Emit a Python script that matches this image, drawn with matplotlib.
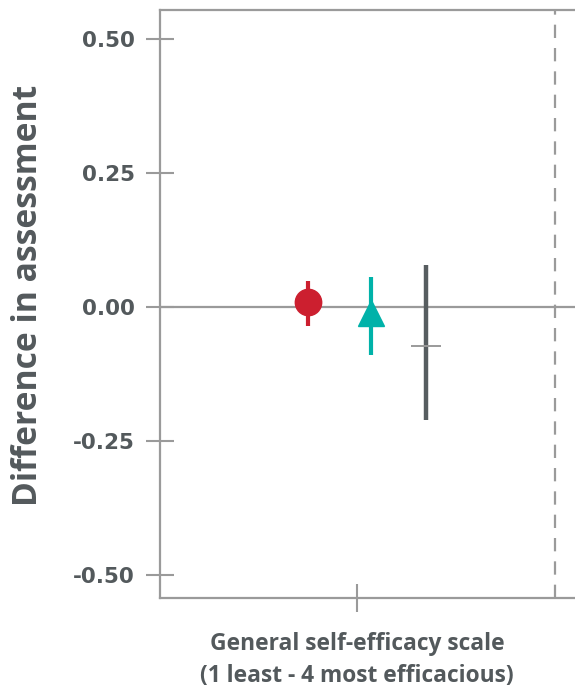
import matplotlib
matplotlib.use("Agg")
import matplotlib.pyplot as plt

# Data
groups = ["red", "teal", "dark"]
x_pos = [-0.49, 0.145, 0.69]
estimates = [0.010, -0.011, -0.072]
lower = [-0.035, -0.090, -0.211]
upper = [0.049, 0.056, 0.078]
y_ticks = [0.50, 0.25, 0.00, -0.25, -0.50]
y_tick_labels = ["0.50", "0.25", "0.00", "-0.25", "-0.50"]
ref_x = 1.98

plt.rcParams['font.family'] = ['Open Sans', 'DejaVu Sans']
txt = '#53595c'
grey = '#9a9a9a'

fig = plt.figure(figsize=(5.75, 6.92), dpi=100)
ax = fig.add_axes([0.278, 0.1358, 0.722, 0.8497])
ax.set_xlim(-1.97, 2.18)
ax.set_ylim(-0.543, 0.554)

ax.axhline(0, color=grey, lw=1.6, zorder=1)
ax.axvline(ref_x, color=grey, lw=1.6, ls=(0, (6, 4.5)), zorder=1)

# red circle
ax.vlines(x_pos[0], lower[0], upper[0], color='#cc1f2f', lw=3, zorder=3)
ax.plot(x_pos[0], estimates[0], 'o', ms=19, color='#cc1f2f', zorder=4)
# teal triangle
ax.vlines(x_pos[1], lower[1], upper[1], color='#00b2a9', lw=3, zorder=3)
ax.plot(x_pos[1], estimates[1], '^', ms=19, color='#00b2a9', zorder=4)
# dark line with crossbar
ax.vlines(x_pos[2], lower[2], upper[2], color='#575d60', lw=3.2, zorder=3)
ax.plot(x_pos[2], estimates[2], '_', ms=21, mew=1.4, color=grey, zorder=4)

ax.spines['right'].set_visible(False)
for s in ['left', 'bottom', 'top']:
    ax.spines[s].set_color(grey)
    ax.spines[s].set_linewidth(1.6)

ax.set_yticks(y_ticks)
ax.set_yticklabels(y_tick_labels, family=['DejaVu Sans'], fontweight='bold')
ax.set_xticks([0])
ax.set_xticklabels([''])
ax.tick_params(axis='both', direction='inout', length=20, width=1.5, color=grey,
               labelsize=15.5, labelcolor=txt)
ax.tick_params(axis='y', pad=8)

ax.set_ylabel('Difference in assessment', fontsize=24.2, fontweight='bold', color=txt, labelpad=20)
ax.yaxis.label.set_y(0.515)
ax.set_xlabel('General self-efficacy scale\n(1 least - 4 most efficacious)', fontsize=16.4,
              fontweight='bold', color=txt, labelpad=11, linespacing=1.42)
ax.xaxis.label.set_x(0.475)

fig.savefig('out.png', dpi=100)
